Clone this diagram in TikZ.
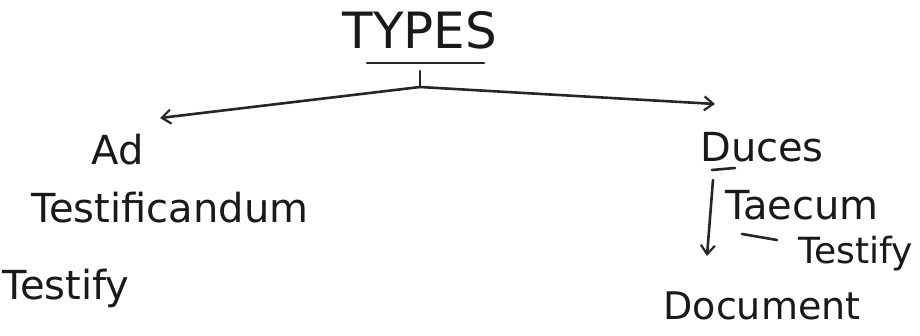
\documentclass[tikz,border=0pt]{standalone}
\usepackage{fontspec}
\setmainfont{DejaVu Sans}
\usetikzlibrary{arrows.meta}
\begin{document}
\begin{tikzpicture}[x=1pt,y=-1pt,
  ink/.style={line width=2.6pt,draw=black!85,line cap=round},
  arr/.style={ink,-{Straight Barb[length=9pt,width=14pt,line width=2.2pt]}},
  word/.style={inner sep=0pt,text=black!90,font=\fontsize{40}{46}\selectfont}]
\useasboundingbox (0,0) rectangle (920,336);
\fill[white] (0,0) rectangle (920,336);
% title
\node[word,font=\fontsize{50}{58}\selectfont] (types) at (420,30) {TYPES};
\coordinate (ulL) at (367,63);
\coordinate (ulR) at (484,63);
\draw[ink] (ulL) -- (ulR);
\coordinate (tickT) at (420,71);
\coordinate (peak) at (420,87);
\draw[ink] (tickT) -- (peak);
% branches
\coordinate (leftEnd) at (160,118);
\coordinate (rightEnd) at (715,104);
\draw[arr] (peak) -- (leftEnd);
\draw[arr] (peak) -- (rightEnd);
% left column
\node[word] (ad) at (118,150) {Ad};
\node[word] (testific) at (170,208) {Testificandum};
\node[word] (testifyL) at (66,288) {Testify};
% right column
\node[word] (duces) at (762,147) {Duces};
\coordinate (duL1) at (712,170);
\coordinate (duL2) at (735,168);
\draw[ink] (duL1) -- (duL2);
\node[word] (tecum) at (802,205) {Taecum};
\coordinate (arrTop) at (713,180);
\coordinate (arrBot) at (707,256);
\draw[arr] (arrTop) -- (arrBot);
\coordinate (dashA) at (742,234);
\coordinate (dashB) at (777,240);
\draw[ink] (dashA) -- (dashB);
\node[word,font=\fontsize{36}{42}\selectfont] (testifyR) at (856,254) {Testify};
\node[word,font=\fontsize{38}{44}\selectfont] (document) at (762,306) {Document};
\end{tikzpicture}
\end{document}
